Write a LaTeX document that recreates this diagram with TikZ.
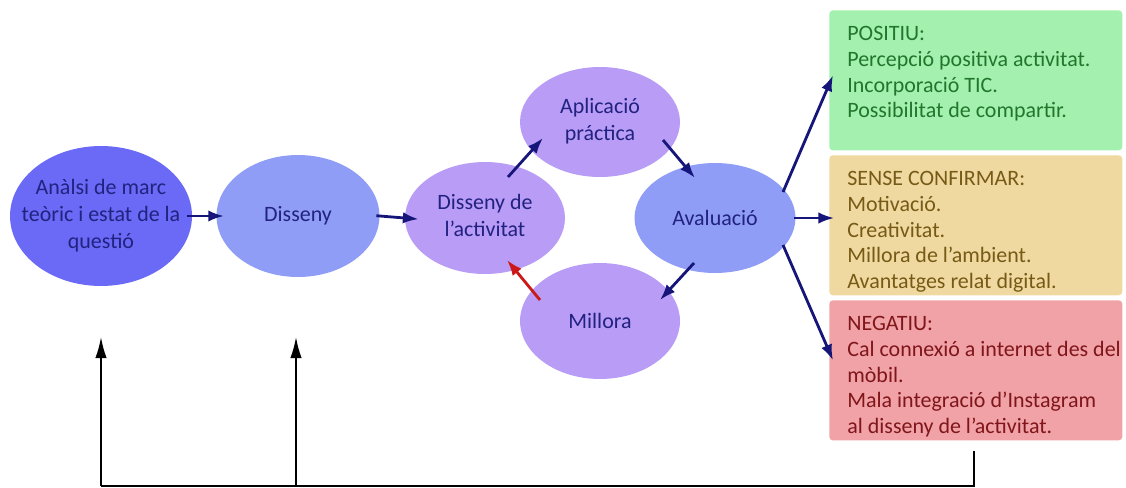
\documentclass[tikz,border=0pt]{standalone}
\usepackage{fontspec}
\setmainfont{Carlito}
\usepackage{tikz}
\usetikzlibrary{shapes.geometric}
\usetikzlibrary{arrows.meta}

\definecolor{anacol}{RGB}{106,106,246}
\definecolor{discol}{RGB}{143,157,246}
\definecolor{actcol}{RGB}{184,156,246}
\definecolor{stagetxt}{RGB}{34,34,128}
\definecolor{arrowcol}{RGB}{22,22,122}
\definecolor{backcol}{RGB}{204,24,24}
\definecolor{posfill}{RGB}{164,240,174}
\definecolor{postxt}{RGB}{34,118,44}
\definecolor{senfill}{RGB}{240,217,160}
\definecolor{sentxt}{RGB}{118,90,22}
\definecolor{negfill}{RGB}{240,162,166}
\definecolor{negtxt}{RGB}{128,22,26}

\newcommand{\etxt}[1]{\makebox[0pt]{\begin{tabular}{@{}c@{}}#1\end{tabular}}}
\newcommand{\btxt}[1]{\parbox[c][2.3cm][t]{5.14cm}{\begin{tabular}[t]{@{}l@{}}#1\end{tabular}}}

\begin{document}
\begin{tikzpicture}[x=0.02cm,y=-0.02cm,
    stage/.style={ellipse,inner sep=0pt,text=stagetxt,font=\fontsize{12.5}{15.2}\selectfont},
    result/.style={rectangle,rounded corners=2pt,anchor=north west,font=\fontsize{12.5}{14.6}\selectfont,
        minimum width=5.86cm,minimum height=2.8cm,inner xsep=0.36cm,inner ysep=0.25cm},
    flow/.style={-{Latex[length=9pt,width=6.5pt]},line width=1.6pt,draw=arrowcol},
    back/.style={-{Latex[length=12pt,width=6.5pt]},line width=1pt}]
                \useasboundingbox (0,0) rectangle (1126,487);
                % stages
                \node[stage,fill=anacol,minimum width=3.64cm,minimum height=2.8cm] (ana) at (101,216) {\etxt{Anàlsi de marc\\teòric i estat de la\\questió}};
                \node[stage,fill=discol,minimum width=3.26cm,minimum height=2.44cm] (dis) at (298,216) {Disseny};
                \node[stage,fill=actcol,minimum width=3.2cm,minimum height=2.24cm] (act) at (485,218) {\etxt{Disseny de\\l’activitat}};
                \node[stage,fill=actcol,minimum width=3.2cm,minimum height=2.2cm] (apl) at (600,122) {\etxt{Aplicació\\práctica}};
                \node[stage,fill=discol,minimum width=3.22cm,minimum height=2.2cm] (ava) at (715,218) {Avaluació};
                \node[stage,fill=actcol,minimum width=3.2cm,minimum height=2.32cm] (mil) at (600,321) {Millora};
                % results
                \node[result,fill=posfill,text=postxt] (pos) at (829,10) {\btxt{POSITIU:\\Percepció positiva activitat.\\Incorporació TIC.\\Possibilitat de compartir.}};
                \node[result,fill=senfill,text=sentxt] (sen) at (829,155) {\btxt{SENSE CONFIRMAR:\\Motivació.\\Creativitat.\\Millora de l’ambient.\\Avantatges relat digital.}};
                \node[result,fill=negfill,text=negtxt] (neg) at (829,300) {\btxt{NEGATIU:\\Cal connexió a internet des del\\mòbil.\\Mala integració d’Instagram\\al disseny de l’activitat.}};
                % arrows
                \draw[flow,shorten <=-3pt,shorten >=-4.5pt] (ana.east) -- (dis.west);
                \draw[flow,shorten <=-2pt,shorten >=-8pt] (dis.east) -- (act.west);
                \draw[flow] ([shift={(23,-41)}]act.center) -- ([shift={(-57,16)}]apl.center);
                \draw[flow] ([shift={(63,18)}]apl.center) -- ([shift={(-20,-40)}]ava.center);
                \draw[flow] ([shift={(-21,45)}]ava.center) -- ([shift={(60,-21)}]mil.center);
                \draw[flow,draw=backcol] ([shift={(-60,-21)}]mil.center) -- ([shift={(22,42)}]act.center);
                \draw[flow] ([shift={(68,-26)}]ava.center) -- ([shift={(4,-5)}]pos.west);
                \draw[flow,shorten <=-1pt,shorten >=-3pt] (ava.east) -- (ava.east -| sen.west);
                \draw[flow] ([shift={(68,27)}]ava.center) -- ([shift={(4,-10)}]neg.west);
                % feedback
                \coordinate (fbtop) at (974,451);
                \coordinate (fbbot) at (974,486);
                \coordinate (anatip) at (101,337);
                \coordinate (distip) at (296,337);
                \draw[line width=1pt] (fbtop) -- (fbbot) -- (fbbot -| anatip);
                \draw[back] (fbbot -| anatip) -- (anatip);
                \draw[back] (fbbot -| distip) -- (distip);
            \end{tikzpicture}
\end{document}
